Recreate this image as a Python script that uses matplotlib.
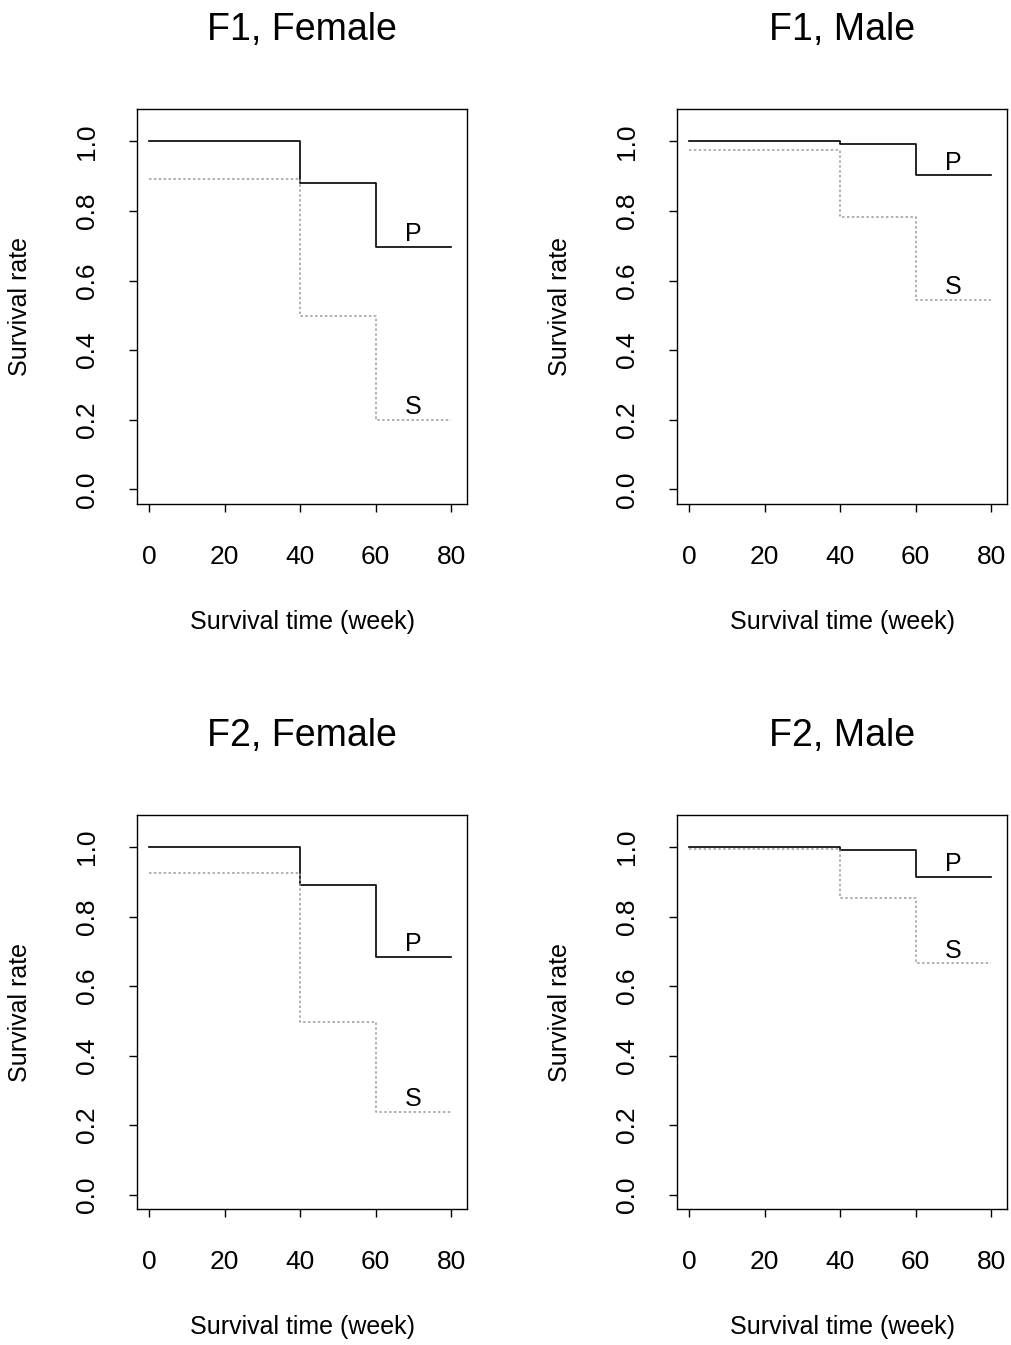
import numpy as np
import matplotlib
matplotlib.use("Agg")
import matplotlib.pyplot as plt

plt.rcParams['font.family'] = ['Liberation Sans', 'DejaVu Sans']

# survival time points (weeks); curves are step functions starting at week 0
times = [0, 40, 60, 80]

titles = ["F1, Female", "F1, Male", "F2, Female", "F2, Male"]

# survival rates at each time point (last value repeated to close the step)
p_f1_female = [1.000, 0.881, 0.697, 0.697]
s_f1_female = [0.893, 0.498, 0.200, 0.200]
p_f1_male = [1.000, 0.991, 0.902, 0.902]
s_f1_male = [0.976, 0.783, 0.545, 0.545]
p_f2_female = [1.000, 0.892, 0.685, 0.685]
s_f2_female = [0.926, 0.498, 0.238, 0.238]
p_f2_male = [1.000, 0.992, 0.914, 0.914]
s_f2_male = [0.995, 0.852, 0.665, 0.665]

p_series = [p_f1_female, p_f1_male, p_f2_female, p_f2_male]
s_series = [s_f1_female, s_f1_male, s_f2_female, s_f2_male]

W, H = 1011, 1345
fig = plt.figure(figsize=(W / 100, H / 100), dpi=100)

# axes boxes in pixels: left, top, right, bottom
boxes = [
    (137.3, 109.3, 467.3, 504.0),
    (677.3, 109.3, 1007.3, 504.0),
    (137.3, 815.0, 467.3, 1209.3),
    (677.3, 815.0, 1007.3, 1209.3),
]

for i in range(4):
    l, t, r, b = boxes[i]
    ax = fig.add_axes([l / W, 1 - b / H, (r - l) / W, (b - t) / H])
    ax.plot(times, p_series[i], drawstyle='steps-post', color='black', lw=1.2)
    ax.plot(times, s_series[i], drawstyle='steps-post', color='#9a9a9a',
            lw=1.1, linestyle=(0, (1.6, 1.6)))
    ax.text(70, p_series[i][-1] + 0.037, "P", ha='center', va='center', fontsize=18)
    ax.text(70, s_series[i][-1] + 0.037, "S", ha='center', va='center', fontsize=18)

    ax.set_xlim(-3.2, 84.3)
    ax.set_ylim(-0.042, 1.092)
    ax.set_xticks([0, 20, 40, 60, 80])
    ax.set_yticks([0.0, 0.2, 0.4, 0.6, 0.8, 1.0])
    ax.set_yticklabels(["0.0", "0.2", "0.4", "0.6", "0.8", "1.0"])
    ax.tick_params(direction='out', length=5.5, width=1, labelsize=19, pad=24)
    ax.tick_params(axis='y', labelrotation=90, pad=22)
    for lab in ax.get_yticklabels():
        lab.set_va('center')
    for sp in ax.spines.values():
        sp.set_linewidth(1)

    ax.set_title(titles[i], fontsize=27, pad=50)
    ax.set_xlabel("Survival time (week)", fontsize=18, va='center')
    ax.xaxis.set_label_coords(0.5, -118 / (b - t))
    ax.set_ylabel("Survival rate", fontsize=18, va='center')
    ax.yaxis.set_label_coords(-117 / (r - l), 0.5)

fig.savefig("out.png", dpi=100)
